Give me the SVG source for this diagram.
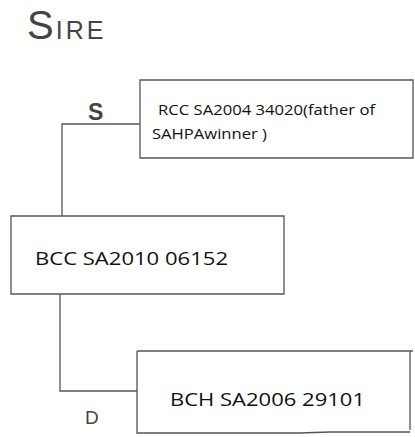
<svg xmlns="http://www.w3.org/2000/svg" width="415" height="437" viewBox="0 0 415 437">
<style>
.box{fill:none;stroke:#555;stroke-width:1.3}
.ln{fill:none;stroke:#555;stroke-width:1.3}
.t{font-family:"Open Sans","Liberation Sans",sans-serif;fill:#111}
.h{font-family:"Liberation Sans","DejaVu Sans",sans-serif;fill:#444}
</style>
<rect width="415" height="437" fill="#ffffff"/>
<text class="h" x="27" y="39"><tspan font-size="40">S</tspan><tspan font-size="25" dx="2" letter-spacing="3">IRE</tspan></text>
<g id="connectors">
<path class="ln" d="M140,124 H62 V216"/>
<path class="ln" d="M60,294 V391 H137"/>
<text class="h" x="88" y="120" font-size="23" font-weight="bold">S</text>
<text class="h" x="85" y="424" font-size="19">D</text>
</g>
<g id="rcc">
<path class="box" d="M140,80 H413 V158 H140 Z"/>
<text class="t" x="158" y="115" font-size="15" textLength="217" lengthAdjust="spacingAndGlyphs">RCC SA2004 34020(father of</text>
<text class="t" x="152" y="139" font-size="15" textLength="115" lengthAdjust="spacingAndGlyphs">SAHPAwinner )</text>
</g>
<g id="bcc">
<path class="box" d="M11,216 H284 V294 H11 Z"/>
<text class="t" x="35" y="265" font-size="18" textLength="193" lengthAdjust="spacingAndGlyphs">BCC SA2010 06152</text>
</g>
<g id="bch">
<path class="box" d="M137,351 H413 M410,351 V430 M137,351 V433 H300 L330,432 H410"/>
<text class="t" x="170" y="406" font-size="18" textLength="195" lengthAdjust="spacingAndGlyphs">BCH SA2006 29101</text>
</g>
</svg>
